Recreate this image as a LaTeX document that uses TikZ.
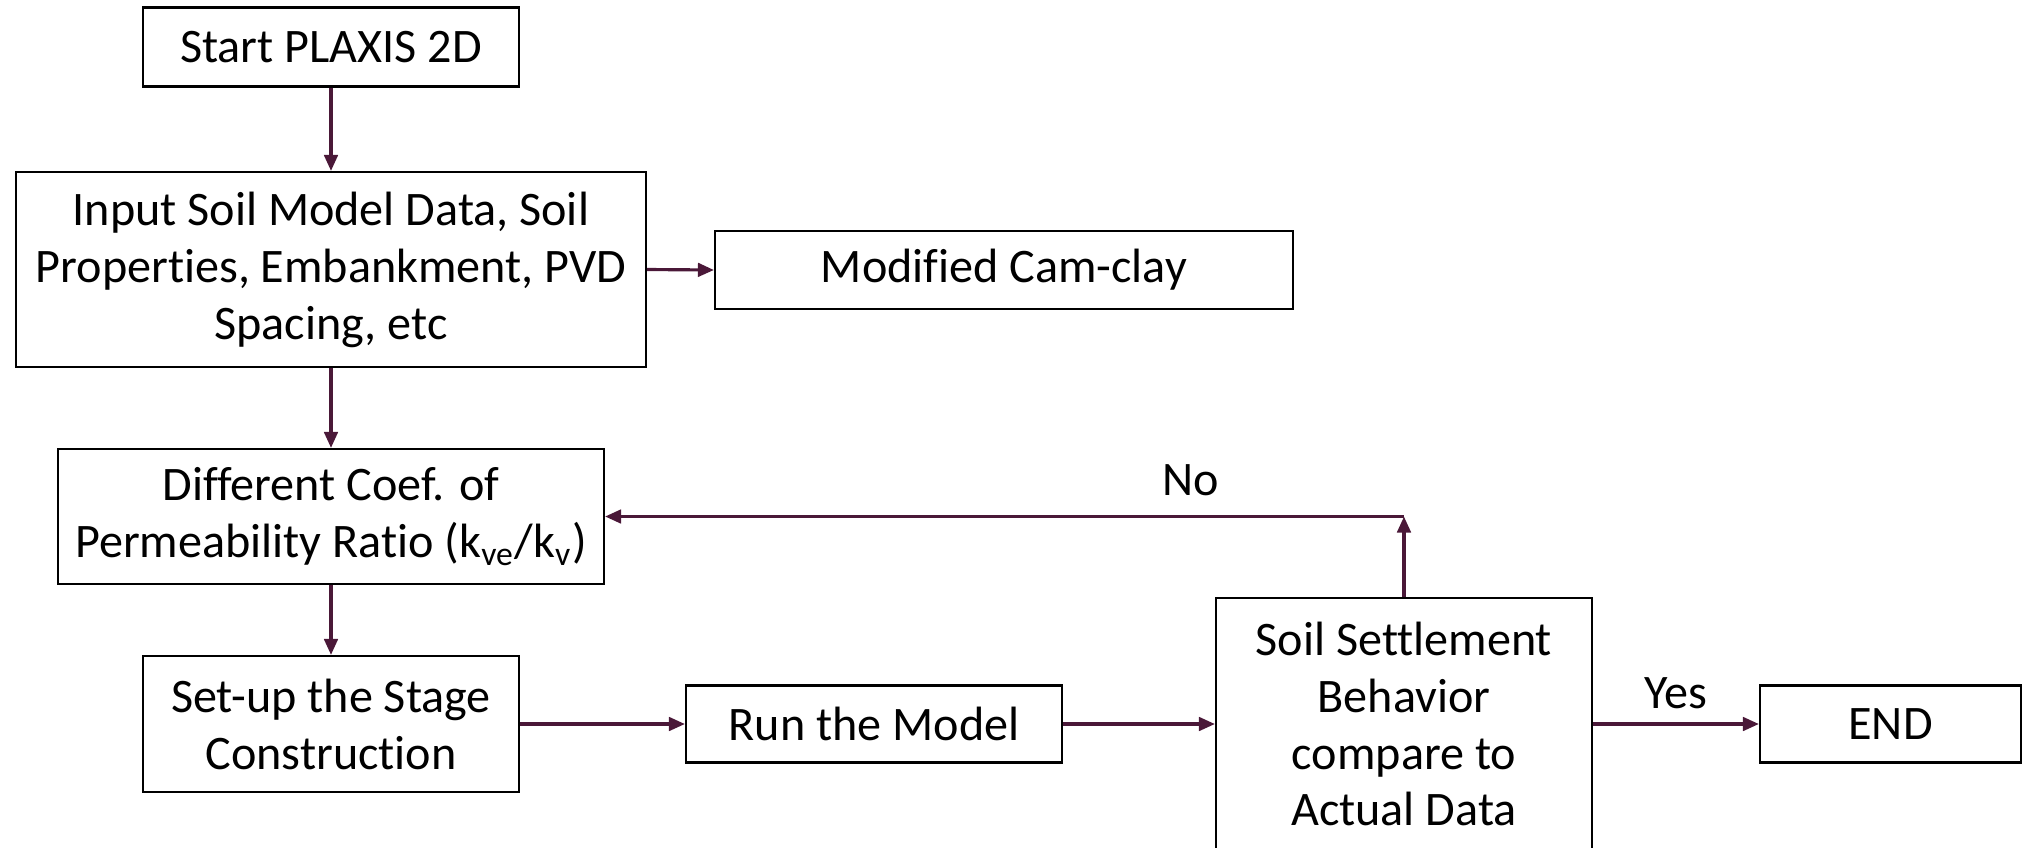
\documentclass[tikz,border=0pt]{standalone}
\usepackage{fontspec}
\setmainfont{Carlito}[Ligatures=NoCommon]
\usetikzlibrary{arrows.meta}
\definecolor{arrcol}{HTML}{4A1838}
\tikzset{
  box/.style={draw=black, line width=0.6pt, fill=white, inner sep=0pt, align=center,
    font=\fontsize{13.7}{16.2}\selectfont},
  flow/.style={draw=arrcol, line width=0.9pt, -{Triangle[length=1.6mm,width=1.35mm]}},
  lbl/.style={font=\fontsize{13.7}{16.2}\selectfont, inner sep=0pt}
}
\begin{document}
\begin{tikzpicture}[x=0.1mm, y=-0.1mm]
\useasboundingbox (0,0) rectangle (2023,847);
\node[box, minimum width=37.6mm, minimum height=7.9mm] (start) at (331,47) {Start PLAXIS 2D};
\node[box, minimum width=63mm, minimum height=19.5mm] (input) at (331,269.5) {Input Soil Model Data, Soil\\Properties, Embankment, PVD\\Spacing, etc};
\node[box, minimum width=57.8mm, minimum height=7.8mm] (cam) at (1004,270) {Modified Cam-clay};
\node[box, minimum width=54.6mm, minimum height=13.5mm] (diff) at (331,516.5) {Different Coef. of\\Permeability Ratio (k\textsubscript{ve}/k\textsubscript{v})};
\node[box, minimum width=37.6mm, minimum height=13.6mm] (setup) at (331,724) {Set-up the Stage\\Construction};
\node[box, minimum width=37.6mm, minimum height=7.7mm] (run) at (874,724) {Run the Model};
\node[box, minimum width=37.6mm, minimum height=25.2mm] (soil) at (1404,724) {Soil Settlement\\Behavior\\compare to\\Actual Data};
\node[box, minimum width=26.1mm, minimum height=7.7mm] (end) at (1890.5,724) {END};
\coordinate (turn) at (soil.north |- diff.east);

\draw[flow] (start) -- (input);
\draw[flow] (input.east) -- (cam.west);
\draw[flow] (input) -- (diff);
\draw[flow] (diff) -- (setup);
\draw[flow] (setup) -- (run);
\draw[flow] (run) -- (soil);
\draw[flow] (soil) -- node[lbl, above=4pt] (yes) {Yes} (end);
\draw[flow] (soil.north) -- (turn);
\draw[flow] (turn) -- node[lbl, pos=0.267, above=5.5pt] (no) {No} (diff.east);
\end{tikzpicture}
\end{document}
